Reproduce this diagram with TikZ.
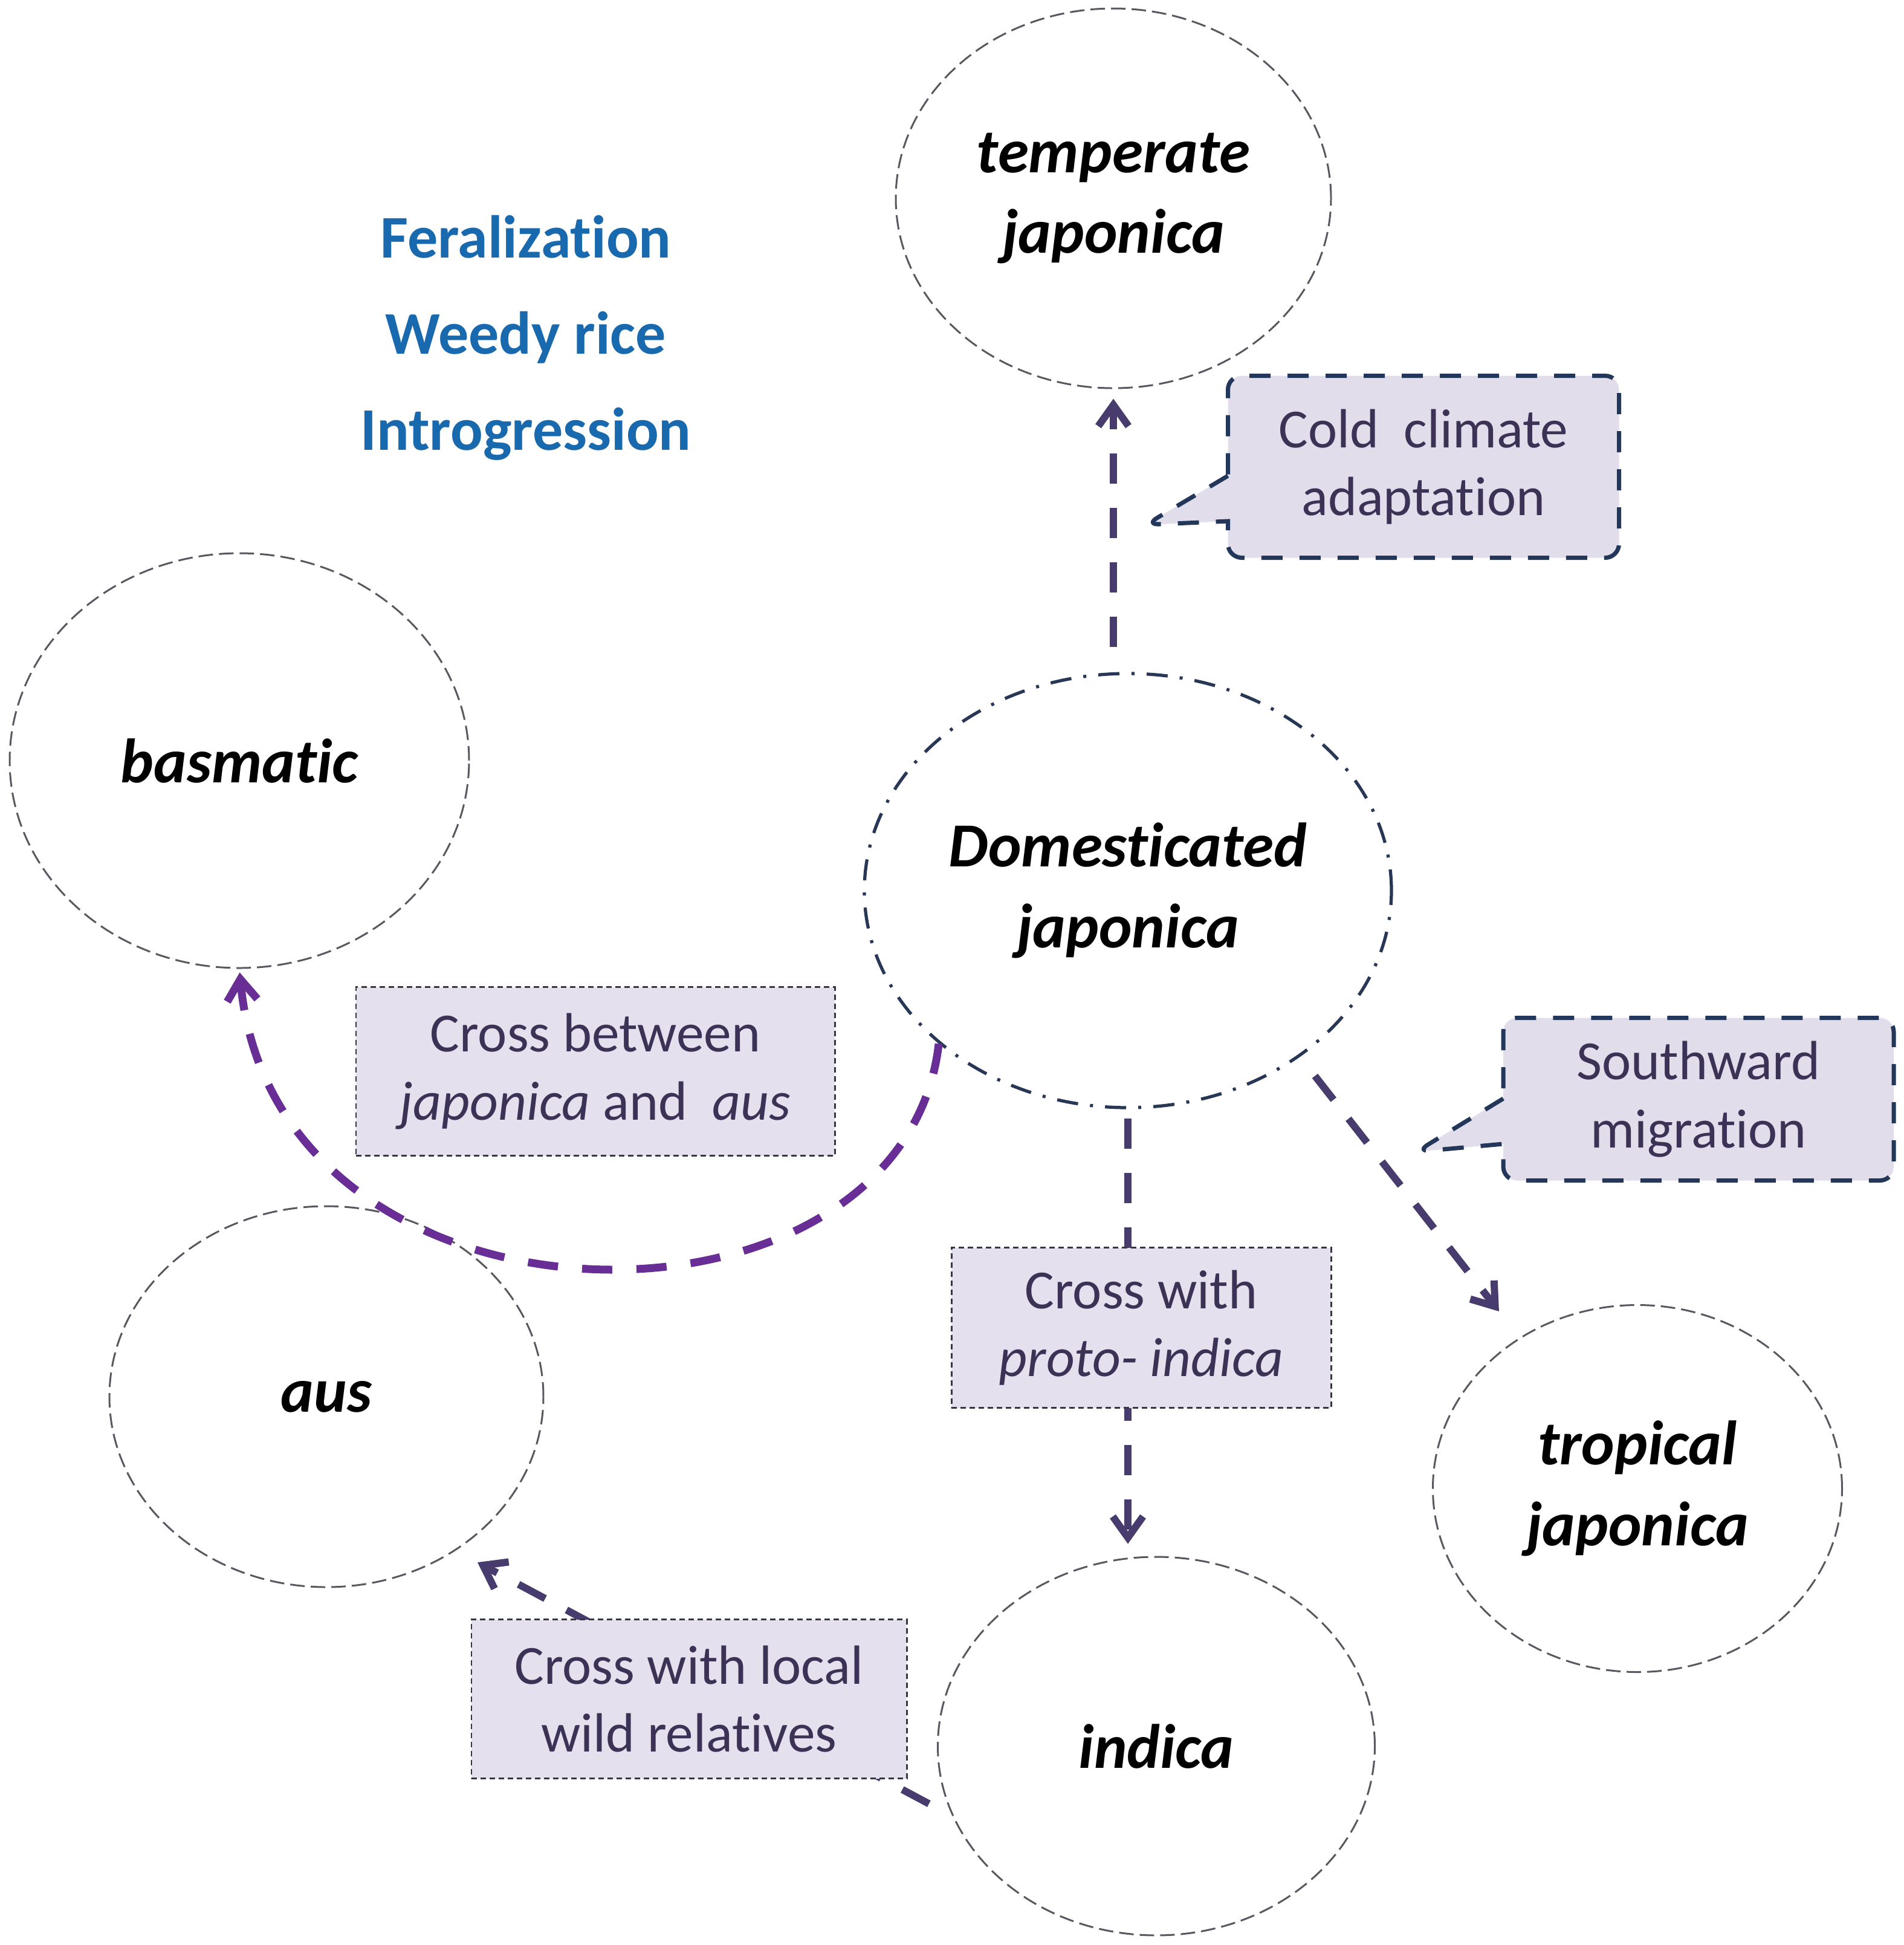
\documentclass[tikz,border=0pt]{standalone}
\usepackage{fontspec}
\setmainfont{Carlito}[Ligatures=NoCommon]
\usetikzlibrary{shapes.geometric,shapes.callouts,arrows.meta}
\definecolor{ringgray}{RGB}{88,88,96}
\definecolor{domnavy}{RGB}{40,55,85}
\definecolor{arrowpurple}{RGB}{72,60,110}
\definecolor{arcpurple}{RGB}{105,45,150}
\definecolor{boxfill}{RGB}{228,224,237}
\definecolor{boxline}{RGB}{55,55,65}
\definecolor{boxtext}{RGB}{60,50,85}
\definecolor{bubblefill}{RGB}{226,221,235}
\definecolor{bubbleline}{RGB}{35,55,90}
\definecolor{topicblue}{RGB}{25,105,175}

\begin{document}
\begin{tikzpicture}[
    group/.style={ellipse, draw=ringgray, line width=0.85pt, dash pattern=on 2.4mm off 1mm,
        inner sep=0pt, align=center, font=\fontsize{29.5}{38}\selectfont\bfseries\itshape},
    note/.style={rectangle, draw=boxline, fill=boxfill, line width=0.85pt, dash pattern=on 0.9mm off 0.6mm,
        inner sep=0pt, align=center, text=boxtext, font=\fontsize{26}{32}\selectfont},
    bubble/.style={rectangle callout, draw=bubbleline, fill=bubblefill, line width=2pt, dash pattern=on 3.5mm off 2.8mm,
        rounded corners=2.3mm, callout pointer width=7.5mm, inner sep=0pt, align=center, text=boxtext,
        font=\fontsize{26}{32}\selectfont},
    flow/.style={draw=arrowpurple, line width=1.2mm, dash pattern=on 5mm off 4mm,
        -{Straight Barb[length=3.5mm,width=5mm]}},
    topic/.style={text=topicblue, font=\fontsize{28.5}{34}\selectfont\bfseries}
]
    \useasboundingbox (0,0) rectangle (31.5,-32.17);

    \node[topic] (feral) at (8.70,-3.92) {Feralization};
    \node[topic] (weedy) at (8.70,-5.58) {Weedy rice};
    \node[topic] (intro) at (8.70,-7.18) {Introgression};

    \node[group, minimum width=7.2cm, minimum height=6.28cm] (temp) at (18.42,-3.28) {temperate\\japonica};
    \node[group, minimum width=7.6cm, minimum height=6.86cm] (bas) at (3.96,-12.58) {basmatic};
    \node[group, draw=domnavy, line width=1.5pt, dash pattern=on 3.5mm off 2mm on 0.5mm off 2mm,
        minimum width=8.72cm, minimum height=7.18cm] (dom) at (18.66,-14.73) {Domesticated\\japonica};
    \node[group, minimum width=7.18cm, minimum height=6.3cm] (aus) at (5.40,-23.10) {aus};
    \node[group, minimum width=6.77cm, minimum height=6.07cm] (trop) at (27.09,-24.62) {tropical\\japonica};
    \node[group, minimum width=7.23cm, minimum height=6.26cm] (ind) at (19.13,-28.88) {indica};

    \draw[flow, shorten <=4.1mm, shorten >=1.6mm] (dom.north -| temp.south) -- (temp.south);
    \draw[flow, shorten <=1.5mm, shorten >=2mm] (dom.south) -- (dom.south |- ind.north);
    \draw[flow, shorten <=4mm, shorten >=5.5mm] (dom.316) -- (trop.128);
    \draw[flow, shorten <=4.4mm, shorten >=4.1mm] (ind.199) -- (aus.310);
    \draw[flow, draw=arcpurple, line width=1.3mm, shorten >=0.6mm]
        (dom.219) .. controls +(-0.6,-5.17) and +(0.59,-6.34) .. (bas.south);

    \node[note, minimum width=7.92cm, minimum height=2.79cm] (japaus) at (9.85,-17.72)
        {Cross between\\\textit{japonica} and~ \textit{aus}};
    \node[note, minimum width=6.28cm, minimum height=2.65cm] (proto) at (18.88,-21.96)
        {Cross with\\\textit{proto- indica}};
    \node[note, minimum width=7.2cm, minimum height=2.63cm] (wild) at (11.40,-28.10)
        {Cross with local\\wild relatives};

    \coordinate (coldtip) at (18.95,-8.68);
    \node[bubble, minimum width=6.47cm, minimum height=3.01cm, callout absolute pointer={(coldtip)}]
        (cold) at (23.55,-7.72) {Cold\ \ climate\\adaptation};
    \coordinate (southtip) at (23.43,-19.05);
    \node[bubble, minimum width=6.46cm, minimum height=2.69cm, callout absolute pointer={(southtip)}]
        (south) at (28.10,-18.18) {Southward\\migration};
\end{tikzpicture}
\end{document}
